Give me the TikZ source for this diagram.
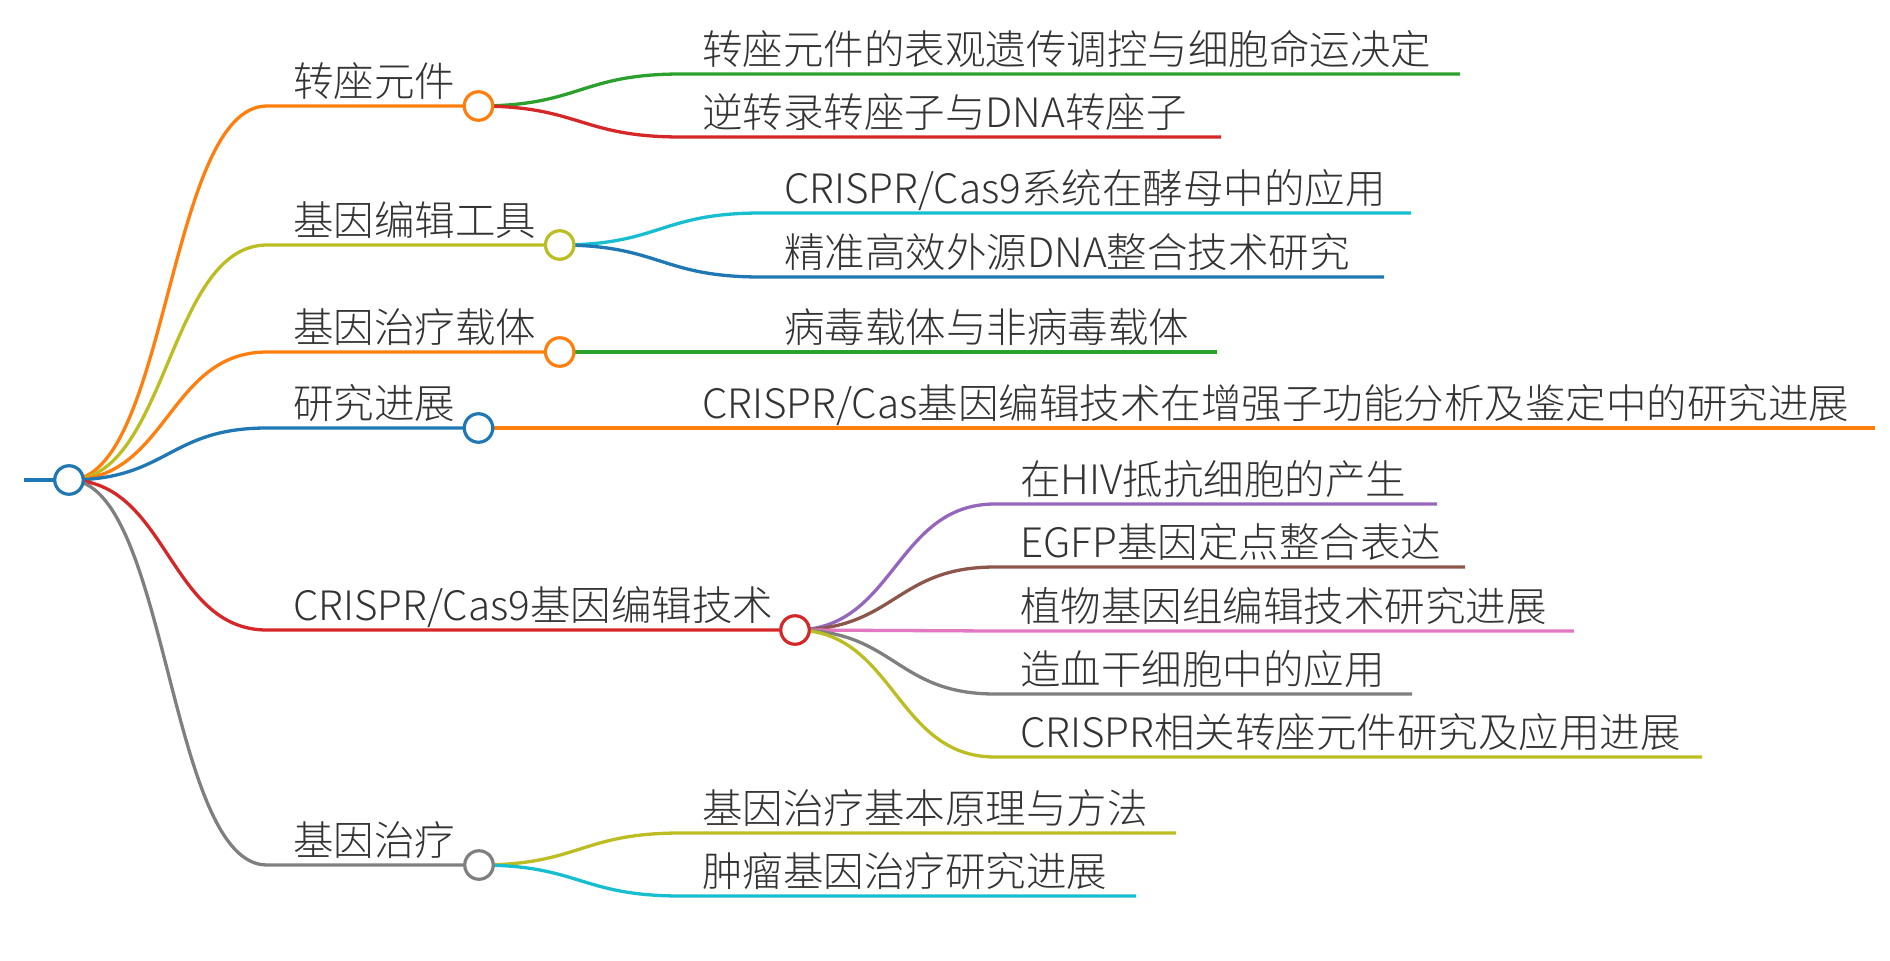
\documentclass[tikz,border=0pt]{standalone}
\usepackage{fontspec}
\IfFontExistsTF{Noto Sans CJK SC Light}{\setmainfont{Noto Sans CJK SC Light}}{\setmainfont{Noto Sans CJK SC}}
\usetikzlibrary{backgrounds}
\definecolor{cOrange}{HTML}{FF7F0E}
\definecolor{cOlive}{HTML}{BCBD22}
\definecolor{cBlue}{HTML}{1F77B4}
\definecolor{cRed}{HTML}{D62728}
\definecolor{cGray}{HTML}{7F7F7F}
\definecolor{cGreen}{HTML}{2CA02C}
\definecolor{cCyan}{HTML}{17BECF}
\definecolor{cPurple}{HTML}{9467BD}
\definecolor{cBrown}{HTML}{8C564B}
\definecolor{cPink}{HTML}{E377C2}
\definecolor{txt}{HTML}{333333}
\begin{document}
\begin{tikzpicture}[x=1pt,y=-1pt,
  lnk/.style={line width=3.3pt},
  dot/.style={circle, draw, fill=white, line width=3.2pt, minimum size=28.5pt, inner sep=0pt, outer sep=0pt},
  lbl/.style={anchor=base west, inner sep=0pt, text=txt, font=\fontsize{40.5}{48}\selectfont}]
\useasboundingbox (0,0) rectangle (1890,961);

% root
\node[dot, draw=cBlue] (root) at (69,480) {};
\coordinate (stub) at (24,480);

% level 1 circles
\node[dot, draw=cOrange] (d1) at (478.5,106) {};
\node[dot, draw=cOlive]  (d2) at (559.7,245) {};
\node[dot, draw=cOrange] (d3) at (559.7,352) {};
\node[dot, draw=cBlue]   (d4) at (478.5,428) {};
\node[dot, draw=cRed]    (d5) at (795,630) {};
\node[dot, draw=cGray]   (d6) at (479,865) {};

% level 1 labels
\node[lbl] (t1) at (293,96)  {转座元件};
\node[lbl] (t2) at (293,235) {基因编辑工具};
\node[lbl] (t3) at (293,342) {基因治疗载体};
\node[lbl] (t4) at (293,418) {研究进展};
\node[lbl] (t5) at (293,620) {CRISPR/Cas9基因编辑技术};
\node[lbl] (t6) at (293,855) {基因治疗};

% level 1 curve ends
\coordinate (k1) at (267,106);
\coordinate (k2) at (267,245);
\coordinate (k3) at (267,352);
\coordinate (k4) at (267,428);
\coordinate (k5) at (267,630);
\coordinate (k6) at (267,865);

% level 2 labels
\node[lbl] (s1)  at (702,64)   {转座元件的表观遗传调控与细胞命运决定};
\node[lbl] (s2)  at (702,127)  {逆转录转座子与DNA转座子};
\node[lbl] (s3)  at (784,203)  {CRISPR/Cas9系统在酵母中的应用};
\node[lbl] (s4)  at (784,267)  {精准高效外源DNA整合技术研究};
\node[lbl] (s5)  at (784,342)  {病毒载体与非病毒载体};
\node[lbl] (s6)  at (702,418)  {CRISPR/Cas基因编辑技术在增强子功能分析及鉴定中的研究进展};
\node[lbl] (s7)  at (1020,494) {在HIV抵抗细胞的产生};
\node[lbl] (s8)  at (1020,557) {EGFP基因定点整合表达};
\node[lbl] (s9)  at (1020,621) {植物基因组编辑技术研究进展};
\node[lbl] (s10) at (1020,684) {造血干细胞中的应用};
\node[lbl] (s11) at (1020,747) {CRISPR相关转座元件研究及应用进展};
\node[lbl] (s12) at (702,823)  {基因治疗基本原理与方法};
\node[lbl] (s13) at (702,886)  {肿瘤基因治疗研究进展};

% level 2 curve ends and underline ends
\coordinate (m1)  at (681,74);   \coordinate (u1)  at (1460,74);
\coordinate (m2)  at (681,137);  \coordinate (u2)  at (1221,137);
\coordinate (m3)  at (761,213);  \coordinate (u3)  at (1411,213);
\coordinate (m4)  at (761,277);  \coordinate (u4)  at (1384,277);
\coordinate (m5)  at (761,352);  \coordinate (u5)  at (1217,352);
\coordinate (m6)  at (681,428);  \coordinate (u6)  at (1875,428);
\coordinate (m7)  at (995,504);  \coordinate (u7)  at (1437,504);
\coordinate (m8)  at (995,567);  \coordinate (u8)  at (1465,567);
\coordinate (m9)  at (995,631);  \coordinate (u9)  at (1574,631);
\coordinate (m10) at (995,694);  \coordinate (u10) at (1412,694);
\coordinate (m11) at (995,757);  \coordinate (u11) at (1702,757);
\coordinate (m12) at (681,833);  \coordinate (u12) at (1176,833);
\coordinate (m13) at (681,896);  \coordinate (u13) at (1136,896);

\begin{scope}[on background layer]
\draw[cBlue, line width=4.8pt] (stub) -- (root.center);
% root -> level 1
\draw[lnk, cOrange] (root.center) .. controls (168,480) and (168,106) .. (k1) -- (d1.center);
\draw[lnk, cOlive]  (root.center) .. controls (168,480) and (168,245) .. (k2) -- (d2.center);
\draw[lnk, cOrange] (root.center) .. controls (168,480) and (168,352) .. (k3) -- (d3.center);
\draw[lnk, cBlue]   (root.center) .. controls (168,480) and (168,428) .. (k4) -- (d4.center);
\draw[lnk, cRed]    (root.center) .. controls (168,480) and (168,630) .. (k5) -- (d5.center);
\draw[lnk, cGray]   (root.center) .. controls (168,480) and (168,865) .. (k6) -- (d6.center);
% level 1 -> level 2
\draw[lnk, cGreen]  (d1.center) .. controls (580,106) and (580,74) .. (m1) -- (u1);
\draw[lnk, cRed]    (d1.center) .. controls (580,106) and (580,137) .. (m2) -- (u2);
\draw[lnk, cCyan]   (d2.center) .. controls (660,245) and (660,213) .. (m3) -- (u3);
\draw[lnk, cBlue]   (d2.center) .. controls (660,245) and (660,277) .. (m4) -- (u4);
\draw[lnk, cGreen]  (d3.center) -- (m5) -- (u5);
\draw[lnk, cOrange] (d4.center) -- (m6) -- (u6);
\draw[lnk, cPurple] (d5.center) .. controls (895,630) and (895,504) .. (m7) -- (u7);
\draw[lnk, cBrown]  (d5.center) .. controls (895,630) and (895,567) .. (m8) -- (u8);
\draw[lnk, cPink]   (d5.center) -- (m9) -- (u9);
\draw[lnk, cGray]   (d5.center) .. controls (895,630) and (895,694) .. (m10) -- (u10);
\draw[lnk, cOlive]  (d5.center) .. controls (895,630) and (895,757) .. (m11) -- (u11);
\draw[lnk, cOlive]  (d6.center) .. controls (580,865) and (580,833) .. (m12) -- (u12);
\draw[lnk, cCyan]   (d6.center) .. controls (580,865) and (580,896) .. (m13) -- (u13);
\end{scope}
\end{tikzpicture}
\end{document}
